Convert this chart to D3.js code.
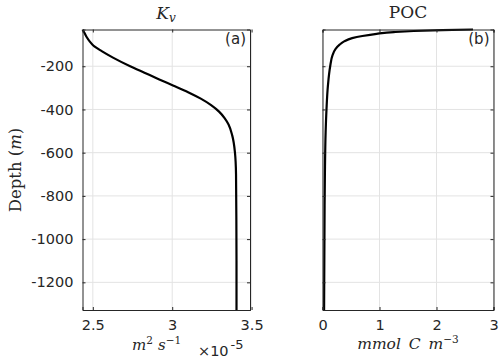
<!DOCTYPE html>
<html>
<head>
<meta charset="utf-8">
<script src="https://cdn.jsdelivr.net/npm/d3@7"></script>
<style>
  body { margin: 0; background: #fff; }
  svg text { fill: #262626; }
  .tick-label { font-family: "DejaVu Sans", sans-serif; font-size: 14.5px; }
  .tex { font-family: "DejaVu Serif", "Liberation Serif", serif; }
</style>
</head>
<body>
<div id="chart"></div>
<script>
// ---- data ----
// panel (a): vertical diffusivity Kv (x1e-5 m^2 s^-1) vs depth (m)
const kvDepth = [-30, -45, -66, -85, -104, -130, -160, -200, -230, -260, -289, -320, -350, -380, -410, -440, -470, -520, -597, -700, -900, -1100, -1328];
const kvValue = [2.435, 2.447, 2.462, 2.48, 2.503, 2.556, 2.627, 2.735, 2.825, 2.915, 3.005, 3.1, 3.18, 3.245, 3.295, 3.33, 3.355, 3.378, 3.395, 3.402, 3.404, 3.405, 3.405];

// panel (b): POC (mmol C m^-3) vs depth (m)
const pocDepth = [-30, -33, -37, -42, -50, -60, -70, -85, -100, -120, -150, -200, -290, -400, -505, -700, -1000, -1328];
const pocValue = [2.64, 2.1, 1.6, 1.25, 0.95, 0.7, 0.52, 0.38, 0.3, 0.23, 0.175, 0.135, 0.095, 0.07, 0.055, 0.042, 0.034, 0.028];

const depthTicks = [-200, -400, -600, -800, -1000, -1200];
const kvTicks = [2.5, 3, 3.5];
const pocTicks = [0, 1, 2, 3];

const W = 500, H = 362;
const svg = d3.select('#chart').append('svg').attr('width', W).attr('height', H);

const plotTop = 29.5, plotBottom = 310;
const y = d3.scaleLinear().domain([-30, -1328]).range([plotTop, plotBottom]);

// draws one boxed panel with grid, ticks on all sides and the profile line
function panel(opt) {
  const x = d3.scaleLinear().domain(opt.xDomain).range([opt.left, opt.right]);
  const g = svg.append('g');

  // grid
  g.append('g').selectAll('line').data(opt.xTicks).join('line')
    .attr('x1', d => x(d)).attr('x2', d => x(d)).attr('y1', plotTop).attr('y2', plotBottom)
    .attr('stroke', '#e3e3e3').attr('stroke-width', 1);
  g.append('g').selectAll('line').data(depthTicks).join('line')
    .attr('x1', opt.left).attr('x2', opt.right).attr('y1', d => y(d)).attr('y2', d => y(d))
    .attr('stroke', '#e3e3e3').attr('stroke-width', 1);

  // profile
  const line = d3.line().x(d => x(d[0])).y(d => y(d[1])).curve(d3.curveMonotoneY);
  g.append('path').datum(d3.zip(opt.values, opt.depths))
    .attr('d', line).attr('fill', 'none').attr('stroke', '#000').attr('stroke-width', 2.2);

  // axes: tick marks inward, on all four sides
  const tl = 3;
  const bAx = g.append('g').attr('transform', `translate(0,${plotBottom})`)
    .call(d3.axisBottom(x).tickValues(opt.xTicks).tickSize(-tl).tickPadding(7).tickFormat(d3.format('')));
  const tAx = g.append('g').attr('transform', `translate(0,${plotTop})`)
    .call(d3.axisTop(x).tickValues(opt.xTicks).tickSize(-tl).tickFormat(''));
  const lAx = g.append('g').attr('transform', `translate(${opt.left},0)`)
    .call(d3.axisLeft(y).tickValues(depthTicks).tickSize(-tl).tickPadding(9)
      .tickFormat(opt.yLabels ? d3.format('') : ''));
  const rAx = g.append('g').attr('transform', `translate(${opt.right},0)`)
    .call(d3.axisRight(y).tickValues(depthTicks).tickSize(-tl).tickFormat(''));
  [bAx, tAx, lAx, rAx].forEach(a => {
    a.select('.domain').attr('stroke', '#262626').attr('stroke-width', 1);
    a.selectAll('.tick line').attr('stroke', '#262626');
    a.selectAll('.tick text').attr('class', 'tick-label').attr('fill', '#262626')
      .text(function() { return d3.select(this).text().replace('−', '-'); });
  });
  bAx.selectAll('.tick text').attr('dy', '0.9em');

  // panel tag
  g.append('text').attr('class', 'tick-label').attr('x', opt.right - 4).attr('y', plotTop + 14)
    .attr('text-anchor', 'end').style('font-size', '15px').text(opt.tag);
  return x;
}

panel({ xDomain: [2.435, 3.49], left: 82.5, right: 250, xTicks: kvTicks,
  values: kvValue, depths: kvDepth, yLabels: true, tag: '(a)' });
panel({ xDomain: [0, 3], left: 322.5, right: 493.5, xTicks: pocTicks,
  values: pocValue, depths: pocDepth, yLabels: false, tag: '(b)' });

// titles
const t1 = svg.append('text').attr('class', 'tex').attr('x', 166).attr('y', 19)
  .attr('text-anchor', 'middle').style('font-size', '17px');
t1.append('tspan').style('font-style', 'italic').text('K');
t1.append('tspan').style('font-style', 'italic').style('font-size', '12px').attr('dy', 3).text('v');
svg.append('text').attr('class', 'tex').attr('x', 408).attr('y', 18)
  .attr('text-anchor', 'middle').style('font-size', '17px').text('POC');

// y label
const yl = svg.append('text').attr('class', 'tex')
  .attr('transform', 'translate(21,170) rotate(-90)')
  .attr('text-anchor', 'middle').style('font-size', '16.5px');
yl.append('tspan').text('Depth (');
yl.append('tspan').style('font-style', 'italic').text('m');
yl.append('tspan').text(')');

// x label (a)
const xl1 = svg.append('text').attr('class', 'tex').attr('x', 132).attr('y', 350)
  .style('font-size', '15px').style('font-style', 'italic');
xl1.append('tspan').text('m');
xl1.append('tspan').attr('dy', -6).style('font-size', '10.5px').style('font-style', 'normal').text('2');
xl1.append('tspan').attr('dy', 6).attr('dx', 5).text('s');
xl1.append('tspan').attr('dy', -6).style('font-size', '10.5px').style('font-style', 'normal').text('−1');
const ex = svg.append('text').attr('class', 'tick-label').attr('x', 198).attr('y', 356);
ex.append('tspan').text('×10');
ex.append('tspan').attr('dy', -7).attr('dx', 2).style('font-size', '13px').text('-5');

// x label (b)
const xl2 = svg.append('text').attr('class', 'tex').attr('x', 408).attr('y', 349)
  .attr('text-anchor', 'middle').style('font-size', '15.5px').style('font-style', 'italic')
  .style('word-spacing', '3px');
xl2.append('tspan').text('mmol C m');
xl2.append('tspan').attr('dy', -6).style('font-size', '10.5px').style('font-style', 'normal').text('−3');
</script>
</body>
</html>
